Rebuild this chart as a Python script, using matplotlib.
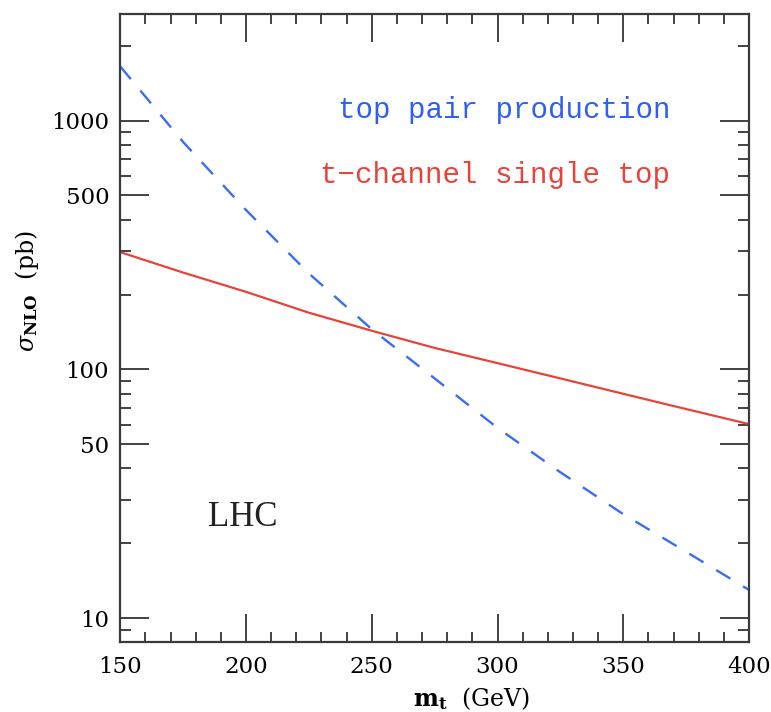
import numpy as np
import matplotlib
matplotlib.use("Agg")
import matplotlib.pyplot as plt
from matplotlib.ticker import FixedLocator, FixedFormatter, MultipleLocator

plt.rcParams['mathtext.fontset'] = 'dejavuserif'

# top mass (GeV) and NLO cross sections (pb)
mt = [150, 175, 200, 225, 250, 275, 300, 325, 350, 375, 400]
sigma_ttbar = [1650, 820, 437, 243, 145, 92, 58.2, 38.6, 26.2, 18.5, 13.0]
sigma_tchan = [296, 245, 205, 169, 143, 122, 106, 92, 79.8, 69.3, 60.3]

y_major = [10, 50, 100, 500, 1000]
y_minor = [9, 20, 30, 40, 60, 70, 80, 90, 200, 300, 400, 600, 700, 800, 900, 2000]

fig = plt.figure(figsize=(7.71, 7.12), dpi=100)
ax = fig.add_axes([0.156, 0.0987, 0.8155, 0.8816])

ax.plot(mt, sigma_ttbar, color='#3b6cf5', lw=1.7, dashes=(7, 6.3))
ax.plot(mt, sigma_tchan, color='#e8433a', lw=1.6)

ax.set_yscale('log')
ax.set_xlim(150, 400)
ax.set_ylim(8.05, 2680)

ax.yaxis.set_major_locator(FixedLocator(y_major))
ax.yaxis.set_major_formatter(FixedFormatter([str(v) for v in y_major]))
ax.yaxis.set_minor_locator(FixedLocator(y_minor))
ax.yaxis.set_minor_formatter(FixedFormatter([''] * len(y_minor)))
ax.xaxis.set_major_locator(MultipleLocator(50))
ax.xaxis.set_minor_locator(MultipleLocator(10))

for s in ax.spines.values():
    s.set_linewidth(1.6)
    s.set_color('#3a3a3a')

ax.tick_params(which='both', direction='in', top=True, right=True,
               color='#222222', width=1.2, labelsize=16.5)
ax.tick_params(axis='x', which='major', length=20, pad=10)
ax.tick_params(axis='x', which='minor', length=7)
ax.tick_params(axis='y', which='major', length=21, pad=8)
ax.tick_params(axis='y', which='minor', length=8)
for lab in ax.get_xticklabels() + ax.get_yticklabels():
    lab.set_family('DejaVu Serif')

ax.set_xlabel(r'$\mathbf{m_t}$  (GeV)', family='DejaVu Serif', fontsize=17,
              va='center')
ax.xaxis.set_label_coords(0.558, -0.091)
ax.set_ylabel(r'$\sigma_{\mathbf{NLO}}$  (pb)', family='DejaVu Serif',
              fontsize=17, va='center')
ax.yaxis.set_label_coords(-0.148, 0.559)

ax.text(368.6, 1104, 'top pair production', color='#2f5ff0', ha='right',
        va='center', family='Liberation Mono', fontsize=21)
ax.text(368.6, 605, 't\u2212channel single top', color='#e8433a', ha='right',
        va='center', family='Liberation Mono', fontsize=21)
ax.text(185, 25.5, 'LHC', color='#222222', ha='left', va='center',
        family='Liberation Serif', fontsize=25)

fig.savefig('out.png', dpi=100)
